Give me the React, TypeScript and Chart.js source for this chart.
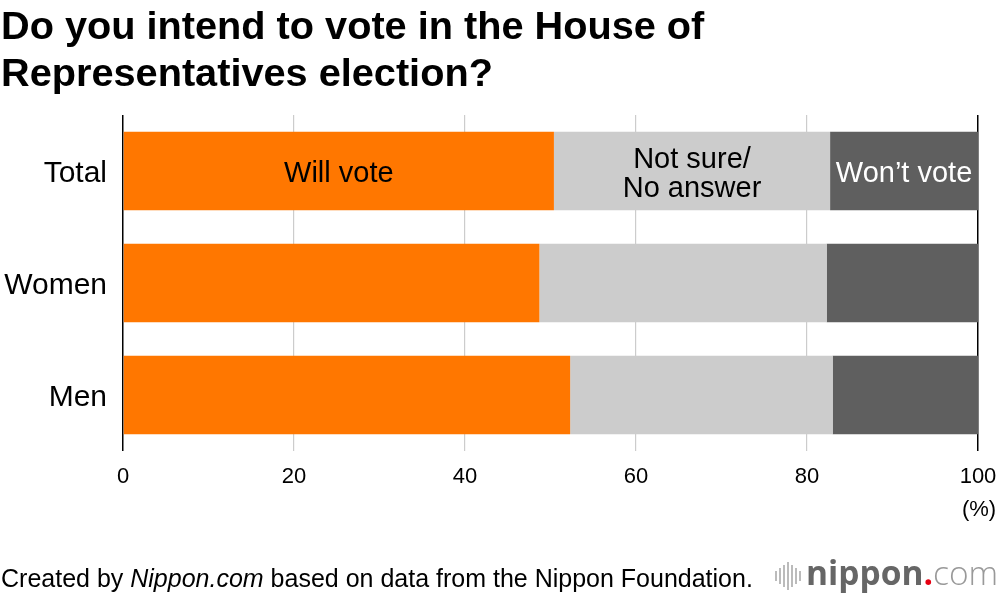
import React, { useEffect, useRef } from "react";
import { Chart, registerables } from "chart.js";

Chart.register(...registerables);

const categories = ["Total", "Women", "Men"];
const seriesNames = ["Will vote", "Not sure/\nNo answer", "Won\u2019t vote"];
const willVote = [50.4, 48.7, 52.3];
const notSure = [32.3, 33.6, 30.7];
const wontVote = [17.3, 17.7, 17.0];
const xTicks = [0, 20, 40, 60, 80, 100];

const FONT = '"Liberation Sans", Arial, Helvetica, sans-serif';
const colors = ["#ff7700", "#cccccc", "#5f5f5f"];
const labelColors = ["#000000", "#000000", "#ffffff"];

const segmentLabelPlugin = {
  id: "segmentLabels",
  afterDatasetsDraw(chart: any) {
    const ctx = chart.ctx;
    ctx.save();
    ctx.font = `29px ${FONT}`;
    ctx.textAlign = "center";
    ctx.textBaseline = "middle";
    chart.data.datasets.forEach((ds: any, di: number) => {
      const meta = chart.getDatasetMeta(di);
      const bar = meta.data[0];
      if (!bar) return;
      const { x, y, base } = bar.getProps(["x", "y", "base"], true);
      const cx = (x + base) / 2;
      const lines = String(ds.label).split("\n");
      const lh = 29;
      ctx.fillStyle = labelColors[di];
      lines.forEach((ln: string, i: number) => {
        ctx.fillText(ln, cx, y + (i - (lines.length - 1) / 2) * lh + 3);
      });
    });
    ctx.restore();
  },
};

const percentPlugin = {
  id: "percentUnit",
  afterDraw(chart: any) {
    const ctx = chart.ctx;
    const xs = chart.scales.x;
    ctx.save();
    ctx.font = `22px ${FONT}`;
    ctx.fillStyle = "#000";
    ctx.textAlign = "center";
    ctx.textBaseline = "middle";
    ctx.fillText("(%)", xs.getPixelForValue(100) + 1, 510);
    ctx.restore();
  },
};

export default function App() {
  const ref = useRef<HTMLCanvasElement | null>(null);

  useEffect(() => {
    if (!ref.current) return;
    const chart = new Chart(ref.current, {
      type: "bar",
      data: {
        labels: categories,
        datasets: [willVote, notSure, wontVote].map((d, i) => ({
          label: seriesNames[i],
          data: d,
          backgroundColor: colors[i],
          borderWidth: 0,
          barPercentage: 0.7,
          categoryPercentage: 1,
        })),
      },
      options: {
        indexAxis: "y",
        animation: false,
        responsive: false,
        maintainAspectRatio: false,
        layout: { padding: { left: 0, right: 22, top: 115, bottom: 0 } },
        plugins: {
          legend: { display: false },
          tooltip: { enabled: false },
          title: { display: false },
        },
        scales: {
          x: {
            stacked: true,
            min: 0,
            max: 100,
            afterBuildTicks(scale: any) {
              scale.ticks = xTicks.map((v) => ({ value: v }));
            },
            afterFit(scale: any) {
              scale.height = 147;
              scale.paddingLeft = 0;
              scale.paddingRight = 0;
            },
            grid: {
              drawTicks: false,
              color: (c: any) =>
                c.tick && (c.tick.value === 0 || c.tick.value === 100) ? "#000000" : "#cccccc",
              lineWidth: (c: any) =>
                c.tick && (c.tick.value === 0 || c.tick.value === 100) ? 1.5 : 1.2,
            },
            border: { display: false },
            ticks: {
              padding: 13,
              color: "#000",
              font: { family: FONT, size: 22 },
              maxRotation: 0,
              autoSkip: false,
            },
          },
          y: {
            stacked: true,
            afterFit(scale: any) {
              scale.width = 123;
              scale.paddingTop = 0;
              scale.paddingBottom = 0;
            },
            grid: { display: false, drawTicks: false },
            border: { display: false },
            ticks: {
              padding: 16,
              labelOffset: 3,
              color: "#000",
              font: { family: FONT, size: 30 },
            },
          },
        },
      },
      plugins: [segmentLabelPlugin, percentPlugin],
    } as any);
    return () => chart.destroy();
  }, []);

  const bars = [10, 16, 22, 28, 22, 16, 10];

  return (
    <div
      style={{
        position: "absolute",
        left: 0,
        top: 0,
        width: 1000,
        height: 598,
        background: "#fff",
        overflow: "hidden",
        fontFamily: FONT,
      }}
    >
      <canvas ref={ref} width={1000} height={598} style={{ position: "absolute", left: 0, top: 0 }} />
      <div
        style={{
          position: "absolute",
          left: 1,
          top: 2,
          fontSize: 39.7,
          fontWeight: 700,
          lineHeight: "47px",
          color: "#000",
          whiteSpace: "nowrap",
        }}
      >
        Do you intend to vote in the House of
        <br />
        Representatives election?
      </div>
      <div
        style={{
          position: "absolute",
          left: 1,
          top: 563,
          fontSize: 25,
          lineHeight: "30px",
          color: "#000",
          whiteSpace: "nowrap",
        }}
      >
        Created by <i>Nippon.com</i> based on data from the Nippon Foundation.
      </div>
      <div
        style={{
          position: "absolute",
          left: 775,
          top: 561,
          height: 30,
          display: "flex",
          alignItems: "center",
          gap: 2,
        }}
      >
        {bars.map((h, i) => (
          <div key={i} style={{ width: 2, height: h, background: "#bbbbbb" }} />
        ))}
      </div>
      <div
        style={{
          position: "absolute",
          left: 806,
          top: 552,
          fontFamily: '"Open Sans", sans-serif',
          fontSize: 33.5,
          lineHeight: "40px",
          whiteSpace: "nowrap",
        }}
      >
        <span style={{ fontWeight: 700, color: "#666666" }}>nippon</span>
        <span style={{ fontWeight: 700, color: "#e60012" }}>.</span>
        <span style={{ fontWeight: 300, color: "#999999" }}>com</span>
      </div>
    </div>
  );
}
